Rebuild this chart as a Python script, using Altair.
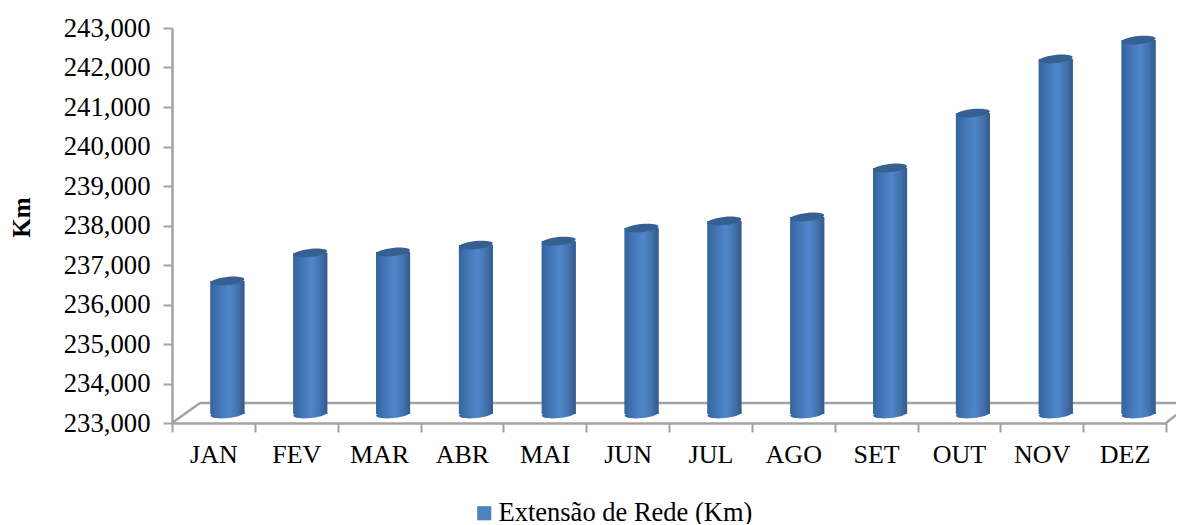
import altair as alt
import pandas as pd

months = ["JAN", "FEV", "MAR", "ABR", "MAI", "JUN", "JUL", "AGO", "SET", "OUT", "NOV", "DEZ"]
values = [236240, 236950, 236975, 237150, 237250, 237580, 237760, 237860, 239100, 240490, 241860, 242340]
tick_values = [233000, 234000, 235000, 236000, 237000, 238000, 239000, 240000, 241000, 242000, 243000]
series_name = "Extensão de Rede (Km)"
base_value = 233000

df = pd.DataFrame({"mes": months, "v": values, "s": [series_name] * len(months), "b": [base_value] * len(months)})

FONT = "Liberation Serif"
GREY = "#a3a3a3"
ELLIPSE = "M-1,0 A1,0.24 0 1,1 1,0 A1,0.24 0 1,1 -1,0 Z"
DX, DY, DB = 14, -14, -9
BW = 34

grad = alt.Gradient(
    gradient="linear", x1=0, x2=1, y1=0, y2=0,
    stops=[
        alt.GradientStop(offset=0, color="#36649c"),
        alt.GradientStop(offset=0.2, color="#3f72b0"),
        alt.GradientStop(offset=0.55, color="#5087cb"),
        alt.GradientStop(offset=0.8, color="#4272ad"),
        alt.GradientStop(offset=1, color="#35598a"),
    ],
)

y_scale = alt.Scale(domain=[233000, 243000], zero=False, nice=False)

y_axis = alt.Axis(values=tick_values, format=",d", labelFont=FONT,
                  labelFontSize=26.7, labelColor="#000000", labelPadding=13, tickSize=9,
                  labelOverlap=False, labelFlush=False,
                  tickWidth=2, tickColor=GREY, domainColor=GREY, domainWidth=2.5, grid=False,
                  titleFont=FONT, titleFontSize=25, titleFontWeight="bold", titleColor="#000000",
                  titleX=-151, titleY=189, titleBaseline="middle")

x = alt.X("mes:N", sort=months, title=None,
          scale=alt.Scale(paddingInner=0, paddingOuter=0),
          axis=alt.Axis(labelAngle=0, labelFont=FONT, labelFontSize=26, labelColor="#000000",
                        labelPadding=9, tickBand="extent", tickSize=9, tickWidth=2, tickColor=GREY,
                        domainColor=GREY, domainWidth=2.5, labelBaseline="top", grid=False))
y = alt.Y("v:Q", title="Km", scale=y_scale, axis=y_axis)

base = alt.Chart(df)
one = alt.Chart(pd.DataFrame({"a": [0]}))
floor_back = one.mark_rule(color=GREY, strokeWidth=2.5, clip=False).encode(
    x=alt.value(28), x2=alt.value(1004), y=alt.value(375), y2=alt.value(375))
floor_left = one.mark_rule(color=GREY, strokeWidth=2.5, clip=False).encode(
    x=alt.value(0), x2=alt.value(28), y=alt.value(395), y2=alt.value(375))
floor_right = one.mark_rule(color=GREY, strokeWidth=2.5, clip=False).encode(
    x=alt.value(994), x2=alt.value(1004), y=alt.value(395), y2=alt.value(387))

legend = alt.Legend(title=None, orient="none", legendX=299, legendY=472, symbolType="square",
                    symbolSize=200, symbolStrokeWidth=0, labelFont=FONT, labelFontSize=26.5,
                    labelColor="#000000", labelOffset=1, labelLimit=400)

flat = base.mark_bar(size=BW, xOffset=DX, x2Offset=DX, yOffset=DY, y2Offset=DB, clip=False).encode(
    x=x, y=y, y2=alt.Y2("b:Q"),
    color=alt.Color("s:N", scale=alt.Scale(range=["#4f81bd"]), legend=legend))
body = base.mark_bar(size=BW, xOffset=DX, x2Offset=DX, yOffset=DY, y2Offset=DB, clip=False, color=grad).encode(
    x=x, y=y, y2=alt.Y2("b:Q"))
bottom = base.mark_point(shape=ELLIPSE, size=BW * BW, filled=True, opacity=1, color=grad, strokeWidth=0,
                         angle=354, xOffset=DX, yOffset=DB, clip=False).encode(
    x=x, y=alt.Y("b:Q", title="Km", scale=y_scale, axis=y_axis))
top = base.mark_point(shape=ELLIPSE, size=BW * BW, filled=True, opacity=1, color="#376092", strokeWidth=0,
                      angle=354, xOffset=DX, yOffset=DY, clip=False).encode(x=x, y=y)

chart = alt.layer(floor_back, floor_left, floor_right, flat, body, bottom, top).properties(
    width=994, height=395, autosize="none",
    padding={"left": 164, "top": 20, "right": 10, "bottom": 101},
    background="#ffffff",
).configure_view(stroke=None)

chart.save("out.html", embed_options={"renderer": "svg", "actions": False})
